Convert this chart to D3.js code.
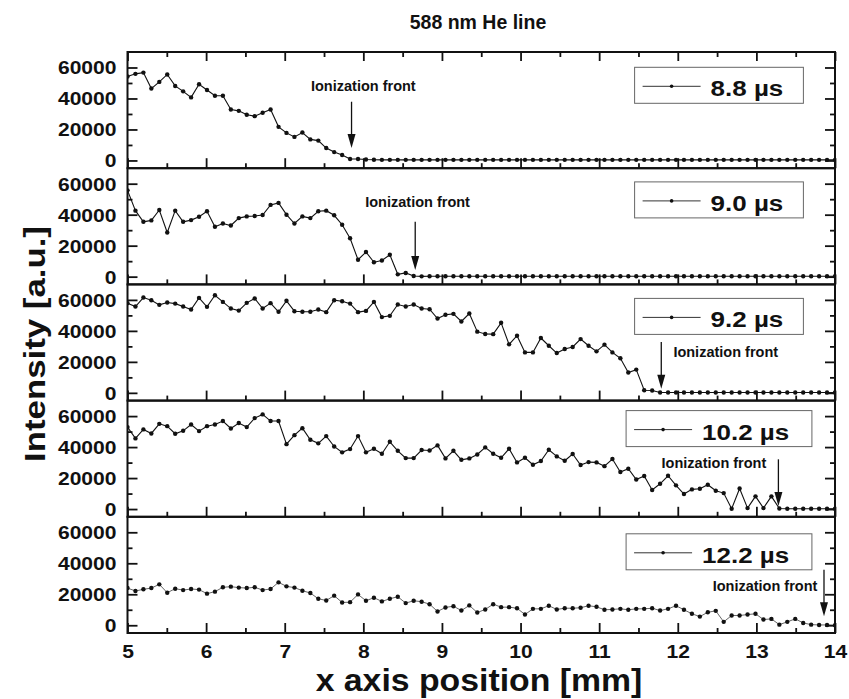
<!DOCTYPE html>
<html>
<head>
<meta charset="utf-8">
<script src="https://cdn.jsdelivr.net/npm/d3@7"></script>
<style>
  body { margin: 0; background: #fff; }
  text { font-family: "Liberation Sans", Arial, sans-serif; font-weight: bold; fill: #111; }
</style>
</head>
<body>
<svg id="chart" width="849" height="699"></svg>
<script>
// sample positions along x (mm), 90 evenly spaced points from 5 to 14
var xPos = d3.range(90).map(function (i) { return 5 + i * 9 / 89; });

var s88 = [54200,55900,56700,46400,50700,55500,48100,44600,40700,49200,
  45500,41800,41800,32900,32000,29500,28600,30800,32900,21700,
  17800,15200,18000,13600,12800,8000,5400,3500,900,900,
  600,500,400,400,400,400,400,400,400,400,
  400,400,400,400,400,400,400,400,400,400,
  400,400,400,400,400,400,400,400,400,400,
  400,400,400,400,400,400,400,400,400,400,
  400,400,400,400,400,400,400,400,400,400,
  400,400,400,400,400,400,400,400,400,400];

var s90 = [55700,42600,35400,36300,43000,28500,42600,35400,36500,38700,
  42200,32200,34300,33000,37800,38900,39100,39800,46300,47600,
  40000,34300,38900,37800,42200,42600,39600,33500,24800,10900,
  15900,9300,10400,14100,1500,2400,400,200,300,300,
  300,300,300,300,300,300,300,300,300,300,
  300,300,300,300,300,300,300,300,300,300,
  300,300,300,300,300,300,300,300,300,300,
  300,300,300,300,300,300,300,300,300,300,
  300,300,300,300,300,300,300,300,300,300];

var s92 = [57900,55700,61500,59800,56800,58300,57600,55700,53800,61300,
  55500,63000,58700,54400,53100,58100,60900,54400,57900,52300,
  59400,52700,52300,52300,53800,52100,59800,59100,57600,52100,
  52900,58700,48900,49700,57000,55700,57000,54400,54000,48000,
  50400,51000,46100,51200,39500,38000,37900,45200,31300,36900,
  26100,26100,35400,30400,25700,28300,29600,34700,30400,26800,
  31100,26100,22300,13100,15000,1700,1500,200,200,200,
  200,200,200,200,200,200,200,200,200,200,
  200,200,200,200,200,200,200,200,200,200];

var s102 = [52900,45600,51400,48800,55000,53500,48600,50500,54600,50300,
  53500,54600,56800,52000,55500,52900,58700,61100,56800,56800,
  41900,47700,52200,44700,42400,47100,40400,36600,38700,47100,
  36600,38900,35700,43400,37600,32900,32900,38100,37800,41100,
  32700,37600,31800,32700,35200,39800,35700,33100,38900,30100,
  33100,28600,31000,38300,34000,31200,35500,28400,30300,30100,
  27700,32300,23900,26000,19100,21300,12300,16300,21500,15300,
  9700,12700,13100,15700,11800,10300,200,13300,600,8200,
  600,8200,400,200,200,200,200,200,200,200];

var s122 = [24000,22100,23200,24000,26400,21000,23600,22700,23400,23000,
  20400,21700,24500,24900,24300,24000,24500,22700,23400,27700,
  25100,24300,22300,20800,17100,16000,19100,14700,14900,19900,
  15800,17800,15400,17100,18400,14300,15800,15200,13600,8900,
  11500,12300,9500,12800,8200,10200,13600,11700,11700,11000,
  6900,10600,10600,12600,10200,11000,11000,11300,12600,11900,
  10000,10200,10600,10000,10600,10600,11000,9500,10600,12600,
  10000,7400,5600,8400,9300,2200,6300,6300,6900,7400,
  3700,4100,400,2200,4100,1500,400,200,200,0];

var series = [s88, s90, s92, s102, s122];
var seriesNames = ['8.8 \u00b5s', '9.0 \u00b5s', '9.2 \u00b5s', '10.2 \u00b5s', '12.2 \u00b5s'];

// ionization front arrows: x (mm), arrow tail / tip (intensity), label centre x and baseline
var frontX = [7.85, 8.66, 11.79, 13.28, 13.86];
var frontTail = [37900, 35500, 32800, 32100, 35900];
var frontTip = [8000, 4300, 2700, 2000, 5800];
var frontLabelX = [8.0, 8.69, 12.61, 12.46, 13.11];
var frontLabelY = [45000, 45200, 23100, 26300, 21900];

var xTicks = [5, 6, 7, 8, 9, 10, 11, 12, 13, 14];
var xMinor = [5.5, 6.5, 7.5, 8.5, 9.5, 10.5, 11.5, 12.5, 13.5];
var yTicks = [0, 20000, 40000, 60000];
var yMinor = [10000, 30000, 50000];

// layout
var plotLeft = 127.5, plotRight = 835, plotTop = 52, ph = 116.2;
var legendTop = [15.3, 13.7, 14, 10, 17];
var legendCx = 719;

var svg = d3.select('#chart');
svg.append('rect').attr('width', 849).attr('height', 699).attr('fill', '#fff');

var x = d3.scaleLinear().domain([5, 14]).range([plotLeft, plotRight]);
var y = d3.scaleLinear().domain([-5000, 70000]).range([ph, 0]);

var stretch = function (sel, f) {
  sel.each(function () {
    var L = this.getComputedTextLength();
    this.setAttribute('textLength', L * f);
    this.setAttribute('lengthAdjust', 'spacingAndGlyphs');
  });
};

var styleAxis = function (g) {
  g.select('.domain').remove();
  g.selectAll('.tick line').attr('stroke', '#111').attr('stroke-width', 1.8);
};

series.forEach(function (vals, i) {
  var g = svg.append('g').attr('transform', 'translate(0,' + (plotTop + i * ph) + ')');
  var data = vals.map(function (v, k) { return [xPos[k], v]; });

  g.append('clipPath').attr('id', 'clip' + i)
    .append('rect').attr('x', plotLeft).attr('y', 0).attr('width', plotRight - plotLeft).attr('height', ph);

  var plot = g.append('g').attr('clip-path', 'url(#clip' + i + ')');
  var last = i === series.length - 1;

  plot.append('path').datum(data)
    .attr('fill', 'none')
    .attr('stroke', last ? '#555' : '#111')
    .attr('stroke-width', last ? 0.9 : 1.1)
    .attr('d', d3.line().x(function (d) { return x(d[0]); }).y(function (d) { return y(d[1]); }));

  plot.selectAll('circle').data(data).enter().append('circle')
    .attr('cx', function (d) { return x(d[0]); })
    .attr('cy', function (d) { return y(d[1]); })
    .attr('r', 2.2)
    .attr('fill', '#111');

  // left axis
  var la = g.append('g').attr('transform', 'translate(' + plotLeft + ',0)')
    .call(d3.axisLeft(y).tickValues(yTicks).tickSize(-10).tickPadding(11).tickFormat(d3.format('d')));
  styleAxis(la);
  la.selectAll('text').style('font-size', '18px').attr('dy', '0.36em');
  stretch(la.selectAll('text'), 1.17);
  styleAxis(g.append('g').attr('transform', 'translate(' + plotLeft + ',0)')
    .call(d3.axisLeft(y).tickValues(yMinor).tickSize(-5).tickFormat('')));

  // right axis
  styleAxis(g.append('g').attr('transform', 'translate(' + plotRight + ',0)')
    .call(d3.axisRight(y).tickValues(yTicks).tickSize(-10).tickFormat('')));
  styleAxis(g.append('g').attr('transform', 'translate(' + plotRight + ',0)')
    .call(d3.axisRight(y).tickValues(yMinor).tickSize(-5).tickFormat('')));

  // bottom axis
  var ba = g.append('g').attr('transform', 'translate(0,' + ph + ')')
    .call(d3.axisBottom(x).tickValues(xTicks).tickSize(-10).tickPadding(12)
      .tickFormat(last ? d3.format('d') : ''));
  styleAxis(ba);
  ba.selectAll('text').style('font-size', '18px');
  if (last) stretch(ba.selectAll('text'), 1.17);
  styleAxis(g.append('g').attr('transform', 'translate(0,' + ph + ')')
    .call(d3.axisBottom(x).tickValues(xMinor).tickSize(-5).tickFormat('')));

  if (i === 0) {
    styleAxis(g.append('g').call(d3.axisTop(x).tickValues(xTicks).tickSize(-9).tickFormat('')));
    styleAxis(g.append('g').call(d3.axisTop(x).tickValues(xMinor).tickSize(-5).tickFormat('')));
  }

  // frame
  g.append('rect').attr('x', plotLeft).attr('y', 0).attr('width', plotRight - plotLeft).attr('height', ph)
    .attr('fill', 'none').attr('stroke', '#111').attr('stroke-width', 2);

  // ionization front arrow
  var ax = x(frontX[i]), tipY = y(frontTip[i]);
  g.append('line').attr('x1', ax).attr('x2', ax)
    .attr('y1', y(frontTail[i])).attr('y2', tipY - 12)
    .attr('stroke', '#111').attr('stroke-width', 1.3);
  g.append('path')
    .attr('d', 'M' + ax + ',' + tipY + 'L' + (ax - 4) + ',' + (tipY - 14) + 'L' + (ax + 4) + ',' + (tipY - 14) + 'Z')
    .attr('fill', '#111');
  g.append('text').attr('x', x(frontLabelX[i])).attr('y', y(frontLabelY[i]))
    .attr('text-anchor', 'middle').style('font-size', '14.5px').text('Ionization front');

  // legend
  var lg = g.append('g');
  var box = lg.append('rect').attr('fill', '#fff').attr('stroke', '#666').attr('stroke-width', 1);
  var lt = lg.append('text').style('font-size', '22px').text(seriesNames[i]);
  stretch(lt, 1.18);
  var tw = lt.node().getComputedTextLength() * 1.18;
  var bw = 76 + tw + 7, bx = legendCx - bw / 2, by = legendTop[i];
  box.attr('x', bx).attr('y', by).attr('width', bw).attr('height', 36);
  lt.attr('x', bx + 76).attr('y', by + 29);
  lg.append('line').attr('x1', bx + 8).attr('x2', bx + 66).attr('y1', by + 19).attr('y2', by + 19)
    .attr('stroke', '#333').attr('stroke-width', 1);
  lg.append('circle').attr('cx', bx + 37).attr('cy', by + 19).attr('r', 1.8).attr('fill', '#111');
});

// titles
svg.append('text').attr('x', 478).attr('y', 29).attr('text-anchor', 'middle')
  .style('font-size', '19.5px').text('588 nm He line');

var xt = svg.append('text').attr('x', 479).attr('y', 691).attr('text-anchor', 'middle')
  .style('font-size', '31px').text('x axis position [mm]');
stretch(xt, 1.09);

var yt = svg.append('text').attr('transform', 'translate(45,344) rotate(-90)')
  .attr('text-anchor', 'middle').style('font-size', '30px').text('Intensity [a.u.]');
stretch(yt, 1.16);
</script>
</body>
</html>
